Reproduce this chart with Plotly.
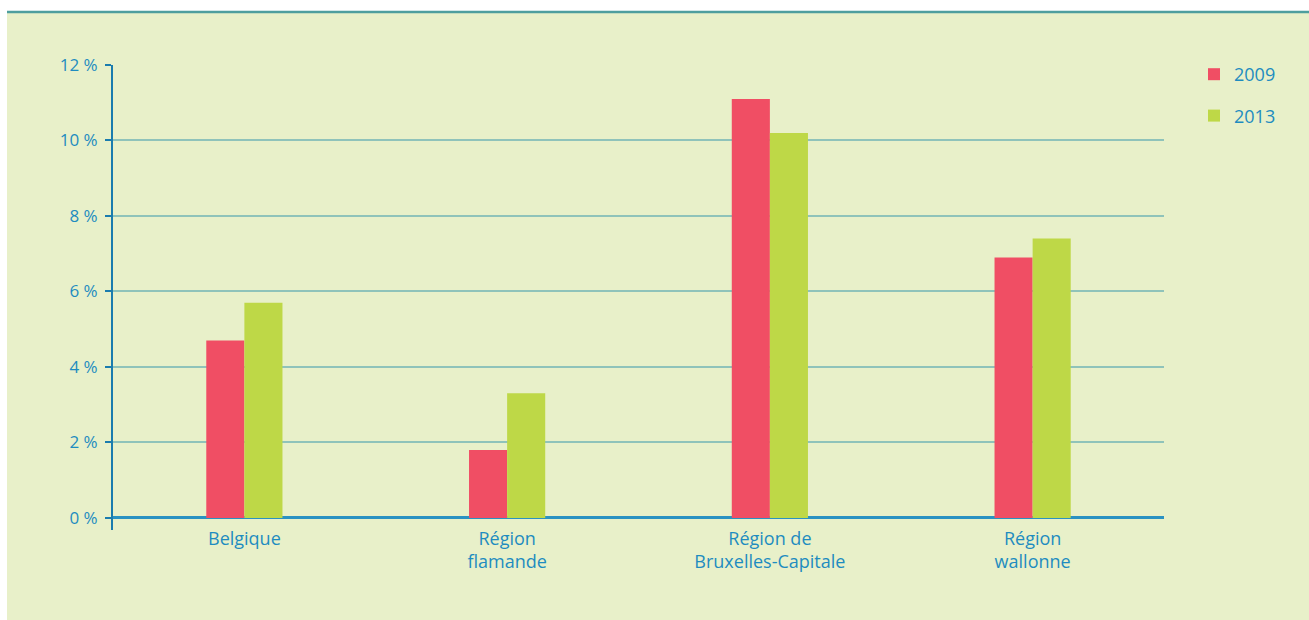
import plotly.graph_objects as go

categories = ["Belgique", "Région<br>flamande", "Région de<br>Bruxelles-Capitale", "Région<br>wallonne"]
series_2009 = [4.7, 1.8, 11.1, 6.9]
series_2013 = [5.7, 3.3, 10.2, 7.4]
y_ticks = [0, 2, 4, 6, 8, 10, 12]
y_labels = ["0 %", "2 %", "4 %", "6 %", "8 %", "10 %", "12 %"]

TXT = "#1E8CC0"
PANEL = "#E8F0C9"

W, H = 1309, 620
L, R, T, B = 113, 145, 65, 90
PW, PH = W - L - R, H - T - B

fig = go.Figure()
fig.add_trace(go.Bar(x=categories, y=series_2009, name="2009", marker_color="#F04E64",
                     marker_line_width=0, legendgroup="a"))
fig.add_trace(go.Bar(x=categories, y=series_2013, name="2013", marker_color="#BED847",
                     marker_line_width=0, legendgroup="b"))

fig.update_layout(
    width=W, height=H,
    margin=dict(l=L, r=R, t=T, b=B),
    paper_bgcolor="white",
    plot_bgcolor="rgba(0,0,0,0)",
    barmode="group", bargap=0.71, bargroupgap=0,
    font=dict(family="Open Sans, Roboto, sans-serif", color=TXT, size=17),
    showlegend=True,
    legend=dict(x=(1194 - L) / PW, y=1 + (T - 56) / PH, xanchor="left", yanchor="top",
                font=dict(size=18, color=TXT),
                bgcolor="rgba(0,0,0,0)", tracegroupgap=15, itemwidth=30),
    shapes=[
        dict(type="rect", xref="paper", yref="paper", x0=(7 - L) / PW, x1=1 + R / PW,
             y0=-B / PH, y1=1 + (T - 13) / PH, fillcolor=PANEL, line_width=0, layer="below"),
        dict(type="line", xref="paper", yref="paper", x0=(7 - L) / PW, x1=1 + R / PW,
             y0=1 + (T - 12) / PH, y1=1 + (T - 12) / PH, line=dict(color="#4E9E9E", width=2.5),
             layer="below"),
    ],
)
fig.update_xaxes(showline=False, showgrid=False, ticks="", tickfont=dict(size=18, color=TXT),
                 ticklabelstandoff=-4)
fig.update_yaxes(range=[-0.32, 12], tickvals=y_ticks, ticktext=y_labels,
                 showgrid=True, gridcolor="#8FC3BA", gridwidth=1.5,
                 zeroline=True, zerolinecolor="#2A92C2", zerolinewidth=2.5,
                 showline=True, linecolor="#1A7CAE", linewidth=2,
                 ticks="outside", ticklen=6, tickcolor="#1A7CAE", tickwidth=2,
                 tickfont=dict(size=17, color=TXT), ticklabelstandoff=4)

fig.write_html("out.html", config={"displayModeBar": False},
               post_script="document.body.style.margin='0';document.body.style.overflow='hidden';")
